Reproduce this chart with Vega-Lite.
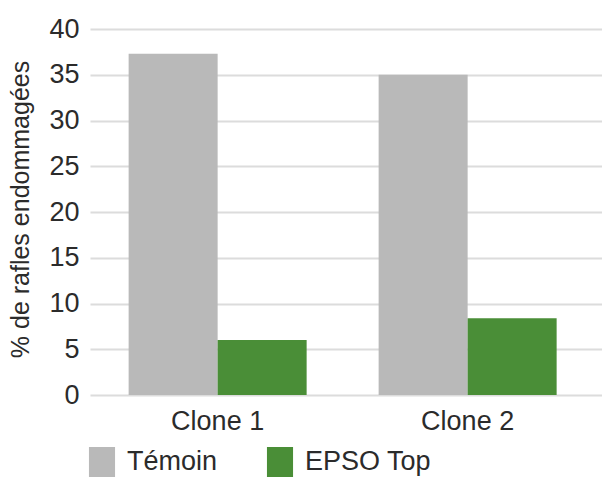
{
  "$schema": "https://vega.github.io/schema/vega-lite/v6.json",
  "width": 512,
  "height": 366,
  "autosize": "none",
  "padding": {"left": 90, "top": 29, "right": 0, "bottom": 90},
  "background": "white",
  "config": {"view": {"stroke": null}, "font": "Liberation Sans"},
  "data": {
    "values": [
      {"clone": "Clone 1", "traitement": "Témoin", "value": 37.3},
      {"clone": "Clone 1", "traitement": "EPSO Top", "value": 6.0},
      {"clone": "Clone 2", "traitement": "Témoin", "value": 35.0},
      {"clone": "Clone 2", "traitement": "EPSO Top", "value": 8.4}
    ]
  },
  "mark": {"type": "bar"},
  "encoding": {
    "x": {
      "field": "clone",
      "type": "nominal",
      "scale": {"paddingInner": 0.288, "paddingOuter": 0.168, "align": 0.46},
      "axis": {
        "title": null,
        "labelAngle": 0,
        "domain": false,
        "ticks": false,
        "grid": false,
        "labelFontSize": 27,
        "labelPadding": 13,
        "labelColor": "#2b2b2b",
        "labelFont": "Liberation Sans"
      }
    },
    "xOffset": {"field": "traitement", "type": "nominal", "sort": ["Témoin", "EPSO Top"]},
    "y": {
      "field": "value",
      "type": "quantitative",
      "scale": {"domain": [0, 40], "nice": false},
      "axis": {
        "title": "% de rafles endommagées",
        "values": [0, 5, 10, 15, 20, 25, 30, 35, 40],
        "domain": false,
        "ticks": false,
        "gridColor": "#dcdcdc",
        "gridWidth": 2,
        "labelFontSize": 27,
        "labelPadding": 11,
        "labelColor": "#2b2b2b",
        "labelFont": "Liberation Sans",
        "titleFont": "Liberation Sans",
        "titleFontSize": 25,
        "titleFontWeight": "normal",
        "titleColor": "#2b2b2b",
        "titleX": -70,
        "titleY": 180,
        "titleAlign": "center",
        "titleBaseline": "middle",
        "titleAngle": 270
      }
    },
    "color": {
      "field": "traitement",
      "type": "nominal",
      "sort": ["Témoin", "EPSO Top"],
      "scale": {"domain": ["Témoin", "EPSO Top"], "range": ["#b9b9b9", "#4a8e37"]},
      "legend": {
        "title": null,
        "orient": "none",
        "direction": "horizontal",
        "legendX": -3,
        "legendY": 418,
        "symbolType": "M-0.87,-1H0.87V1H-0.87Z",
        "symbolSize": 900,
        "symbolStrokeWidth": 0,
        "symbolOpacity": 1,
        "labelFontSize": 27,
        "labelFont": "Liberation Sans",
        "labelColor": "#2b2b2b",
        "labelOffset": 10,
        "columnPadding": 47,
        "labelLimit": 300
      }
    }
  }
}
